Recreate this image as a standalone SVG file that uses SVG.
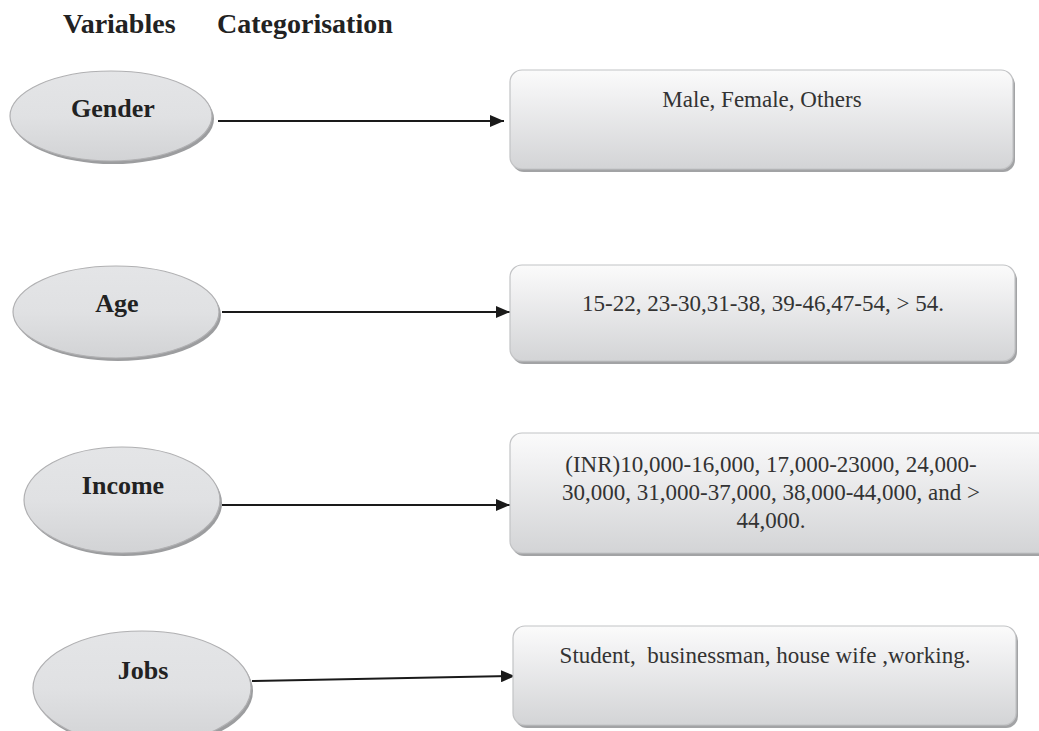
<svg xmlns="http://www.w3.org/2000/svg" width="1039" height="731" viewBox="0 0 1039 731">
<defs>
<linearGradient id="eg" x1="0" y1="0" x2="0" y2="1">
<stop offset="0" stop-color="#e4e5e7"/>
<stop offset="0.5" stop-color="#e0e1e3"/>
<stop offset="1" stop-color="#d2d3d5"/>
</linearGradient>
<linearGradient id="bg" x1="0" y1="0" x2="0" y2="1">
<stop offset="0" stop-color="#fbfbfb"/>
<stop offset="0.2" stop-color="#f3f3f4"/>
<stop offset="1" stop-color="#d3d4d6"/>
</linearGradient>
<marker id="ah" viewBox="0 0 14 12" refX="14" refY="6" markerWidth="14" markerHeight="12" markerUnits="userSpaceOnUse" orient="auto">
<path d="M0,0 L14,6 L0,12 Z" fill="#1a1a1a"/>
</marker>
</defs>
<style>
.title{font-family:"Liberation Serif","Times New Roman",serif;font-weight:bold;font-size:28px;fill:#222}
.el{fill:url(#eg);stroke:#b0b0b2;stroke-width:1.2}
.es{fill:#9c9d9f}
.bx{fill:url(#bg);stroke:#c2c3c5;stroke-width:1.2}
.bs{fill:#a2a3a5}
.vt{font-family:"Liberation Serif","Times New Roman",serif;font-weight:bold;font-size:26px;fill:#222;text-anchor:middle}
.ct{font-family:"Liberation Serif","Times New Roman",serif;font-size:23px;fill:#333;text-anchor:middle;white-space:pre}
.cn{stroke:#1a1a1a;stroke-width:2;fill:none;marker-end:url(#ah)}
</style>
<rect width="1039" height="731" fill="#ffffff"/>
<text class="title" x="63" y="33">Variables</text>
<text class="title" x="217" y="33">Categorisation</text>

<g id="connectors">
<line class="cn" x1="218" y1="121" x2="504" y2="121"/>
<line class="cn" x1="222" y1="312" x2="510" y2="312"/>
<line class="cn" x1="222" y1="505" x2="510" y2="505"/>
<line class="cn" x1="252" y1="681" x2="515" y2="676"/>
</g>

<g id="gender">
<ellipse class="es" cx="113" cy="119" rx="101" ry="45"/>
<ellipse class="el" cx="111" cy="116" rx="101" ry="45"/>
<text class="vt" x="113" y="117">Gender</text>
</g>
<g id="age">
<ellipse class="es" cx="118" cy="315" rx="103" ry="46"/>
<ellipse class="el" cx="116" cy="312" rx="103" ry="46"/>
<text class="vt" x="117" y="312">Age</text>
</g>
<g id="income">
<ellipse class="es" cx="124" cy="503" rx="98" ry="53"/>
<ellipse class="el" cx="122" cy="500" rx="98" ry="53"/>
<text class="vt" x="123" y="494">Income</text>
</g>
<g id="jobs">
<ellipse class="es" cx="144" cy="691" rx="109" ry="57"/>
<ellipse class="el" cx="142" cy="688" rx="109" ry="57"/>
<text class="vt" x="143" y="679">Jobs</text>
</g>

<g id="gender-cat">
<rect class="bs" x="512" y="73" width="503" height="99" rx="12"/>
<rect class="bx" x="510" y="70" width="503" height="99" rx="12"/>
<text class="ct" x="762" y="107">Male, Female, Others</text>
</g>
<g id="age-cat">
<rect class="bs" x="512" y="268" width="505" height="96" rx="12"/>
<rect class="bx" x="510" y="265" width="505" height="96" rx="12"/>
<text class="ct" x="763" y="311">15-22, 23-30,31-38, 39-46,47-54, &gt; 54.</text>
</g>
<g id="income-cat">
<rect class="bs" x="512" y="436" width="540" height="120" rx="12"/>
<rect class="bx" x="510" y="433" width="540" height="120" rx="12"/>
<text class="ct" x="771" y="472">(INR)10,000-16,000, 17,000-23000, 24,000-</text>
<text class="ct" x="771" y="500">30,000, 31,000-37,000, 38,000-44,000, and &gt;</text>
<text class="ct" x="771" y="528">44,000.</text>
</g>
<g id="jobs-cat">
<rect class="bs" x="515" y="629" width="503" height="99" rx="12"/>
<rect class="bx" x="513" y="626" width="503" height="99" rx="12"/>
<text class="ct" x="765" y="663">Student,  businessman, house wife ,working.</text>
</g>
</svg>
